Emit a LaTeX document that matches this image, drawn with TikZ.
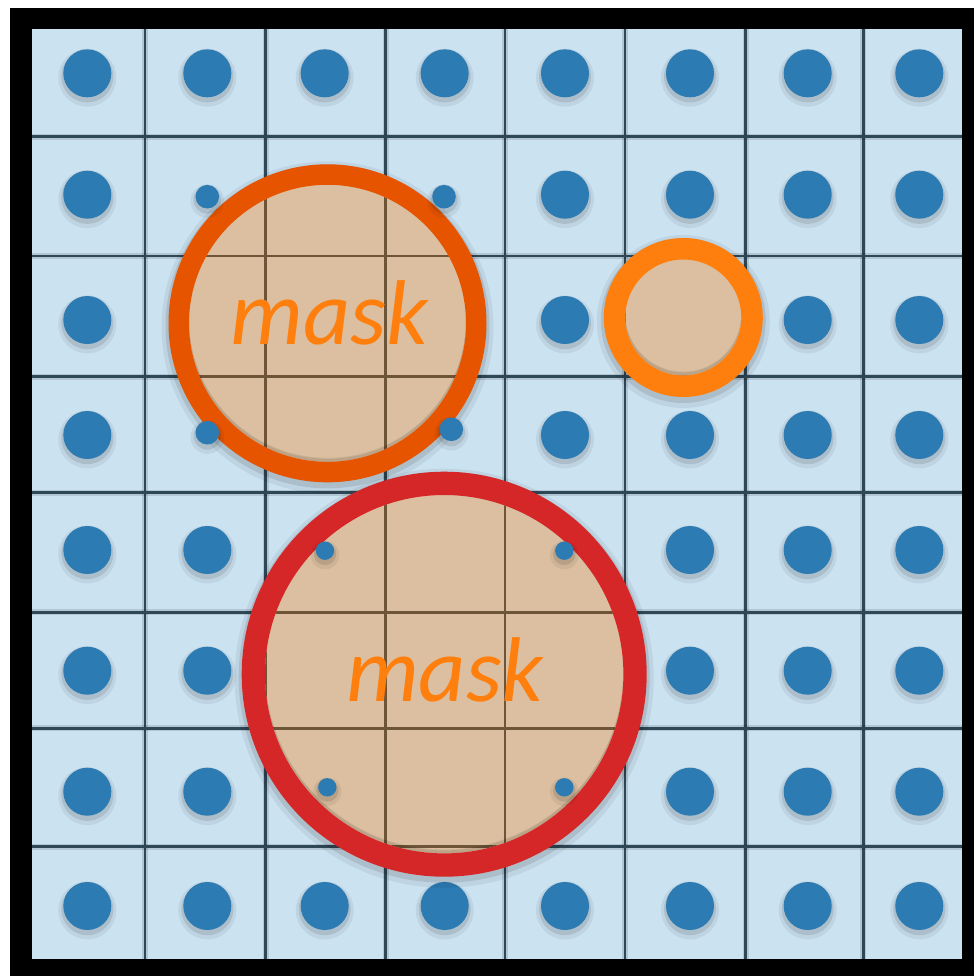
\documentclass[tikz,border=0pt]{standalone}
\usepackage{fontspec}
\newfontfamily\maskfont{Carlito}
\definecolor{cellblue}{HTML}{CBE2F1}
\definecolor{gridline}{HTML}{2F4858}
\definecolor{dotblue}{HTML}{2C7BB3}
\definecolor{maskfill}{HTML}{DBBFA0}
\definecolor{gridbrown}{HTML}{6E5538}
\definecolor{ringorange}{HTML}{E65400}
\definecolor{ringsmall}{HTML}{FF7F0E}
\definecolor{ringred}{HTML}{D62728}
\definecolor{textorange}{HTML}{FF7F0E}
\tikzset{
  gridstroke/.style={gridline, line width=1.3pt},
  gridhalo/.style={black, opacity=0.12, line width=3pt},
  brownstroke/.style={gridbrown, line width=1.3pt},
  masktext/.style={text=textorange, font=\maskfont\itshape\fontsize{46}{46}\selectfont, inner sep=0pt, anchor=base},
}
\newcommand\dotat[2]{%
  \fill[black,opacity=0.06] ([yshift=-2.2pt]#1) circle (#2+5);
  \fill[black,opacity=0.10] ([yshift=-1.6pt]#1) circle (#2+2);
  \fill[dotblue] (#1) circle (#2);}
\newcommand\maskcircle[5]{% center, mid radius, inner radius, width(px), colour
  \draw[black,opacity=0.06,line width=(#4+14)*0.5pt] ([yshift=-2pt]#1) circle (#2);
  \draw[black,opacity=0.10,line width=(#4+6)*0.5pt] ([yshift=-1.5pt]#1) circle (#2);
  \fill[maskfill] (#1) circle (#2);
  \begin{scope}
    \clip (#1) circle (#3);
    \foreach \x in {145,265.7,385.7,505,625,745.7,863.3}
      \draw[brownstroke] (\x,29.3) -- (\x,959);
    \foreach \y in {136.7,256,376.7,492.5,612.3,728.3,846.7}
      \draw[brownstroke] (31.5,\y) -- (961.7,\y);
    \draw[black,opacity=0.07,line width=14pt] ([yshift=2pt]#1) circle (#3+14);
    \draw[black,opacity=0.08,line width=6pt] ([yshift=1.5pt]#1) circle (#3+6);
  \end{scope}
  \draw[#5,line width=#4*0.5pt] (#1) circle (#2);}
\begin{document}
\begin{tikzpicture}[x=0.5pt,y=-0.5pt]
\useasboundingbox (0,0) rectangle (974,976);
\fill[white] (0,0) rectangle (974,976);
\fill[black] (10,8) rectangle (974,976);
\fill[cellblue] (31.5,29.3) rectangle (961.7,959);
% grid
\foreach \x in {145,265.7,385.7,505,625,745.7,863.3}{
  \draw[gridhalo] (\x,29.3) -- (\x,959);
  \draw[gridstroke] (\x,29.3) -- (\x,959);}
\foreach \y in {136.7,256,376.7,492.5,612.3,728.3,846.7}{
  \draw[gridhalo] (31.5,\y) -- (961.7,\y);
  \draw[gridstroke] (31.5,\y) -- (961.7,\y);}
% cell centres
\foreach [count=\i] \x in {87.3,207.3,324.7,444.7,565,690,807.7,919.3}
  \foreach [count=\j] \y in {73.3,194.7,320,435,550,670.7,791.7,906}
    \coordinate (c\i-\j) at (\x,\y);
% visible dots
\foreach \p in {1-1,2-1,3-1,4-1,5-1,6-1,7-1,8-1,
                1-2,5-2,6-2,7-2,8-2,
                1-3,5-3,7-3,8-3,
                1-4,5-4,6-4,7-4,8-4,
                1-5,2-5,6-5,7-5,8-5,
                1-6,2-6,6-6,7-6,8-6,
                1-7,2-7,6-7,7-7,8-7,
                1-8,2-8,3-8,4-8,5-8,6-8,7-8,8-8}
  {\dotat{c\p}{24}}
% centres of masks
\coordinate (m1) at (327.5,323.3);
\coordinate (m2) at (683.3,317.5);
\coordinate (m3) at (444.2,674.2);
\maskcircle{m1}{148.75}{138.5}{20.5}{ringorange}
\maskcircle{m2}{68.75}{58}{21.5}{ringsmall}
\maskcircle{m3}{190.85}{179.2}{23.3}{ringred}
% small dots
\coordinate (s1) at (207.3,196.7);
\coordinate (s2) at (444,196.7);
\coordinate (s3) at (207.3,432.7);
\coordinate (s4) at (451.3,429.3);
\coordinate (s5) at (325,550.7);
\coordinate (s6) at (564.3,550.7);
\coordinate (s7) at (327.3,787.3);
\coordinate (s8) at (564.3,787.3);
\foreach \s in {s1,s2,s3,s4}{\dotat{\s}{11.8}}
\foreach \s in {s5,s6,s7,s8}{\dotat{\s}{9.2}}
% labels
\node[masktext] (mask1) at (329.7,344) {mask};
\node[masktext] (mask2) at (445,701.7) {mask};
\end{tikzpicture}
\end{document}
